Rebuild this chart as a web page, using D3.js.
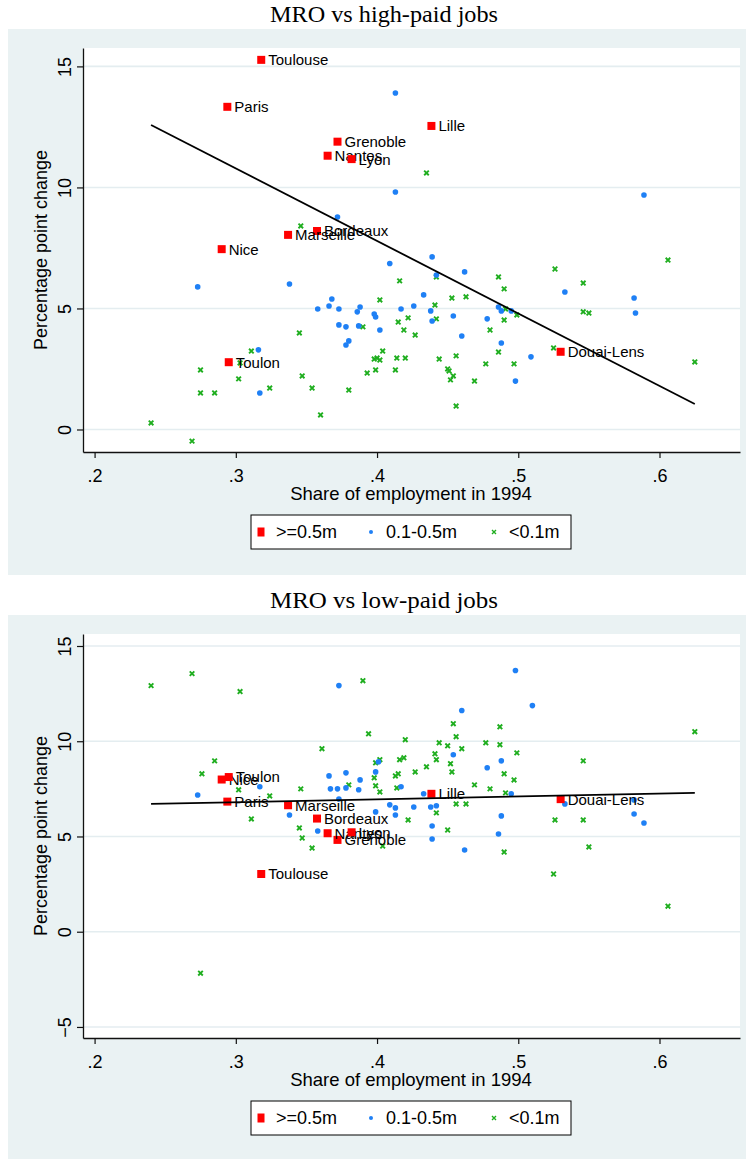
<!DOCTYPE html>
<html>
<head>
<meta charset="utf-8">
<script src="https://cdn.jsdelivr.net/npm/d3@7"></script>
<style>
  body { margin: 0; background: #fff; }
  text { font-family: "Liberation Sans", Arial, sans-serif; }
</style>
</head>
<body>
<div id="chart"></div>
<script>
// ---- data ----

// large employment zones (>=0.5m): name, share 1994, change high-paid, change low-paid
const cities = [
  ["Toulouse", 0.318, 15.27, 3.03],
  ["Paris", 0.294, 13.33, 6.83],
  ["Grenoble", 0.372, 11.89, 4.82],
  ["Nantes", 0.365, 11.31, 5.17],
  ["Lyon", 0.382, 11.17, 5.22],
  ["Lille", 0.4385, 12.54, 7.24],
  ["Bordeaux", 0.3575, 8.20, 5.94],
  ["Marseille", 0.337, 8.04, 6.64],
  ["Nice", 0.290, 7.45, 7.99],
  ["Toulon", 0.295, 2.78, 8.12],
  ["Douai-Lens", 0.530, 3.21, 6.96]
];

// 0.1-0.5m, high-paid jobs
const midHigh = [
  [0.413, 13.90], [0.413, 9.81], [0.589, 9.69], [0.372, 8.78], [0.439, 7.13],
  [0.409, 6.86], [0.462, 6.51], [0.442, 6.38], [0.338, 6.01], [0.273, 5.89],
  [0.533, 5.68], [0.433, 5.56], [0.368, 5.39], [0.582, 5.43], [0.366, 5.10],
  [0.426, 5.10], [0.486, 5.06], [0.358, 4.98], [0.373, 4.98], [0.417, 4.98],
  [0.388, 5.06], [0.386, 4.86], [0.398, 4.77], [0.399, 4.65], [0.438, 4.90],
  [0.488, 4.90], [0.495, 4.90], [0.583, 4.81], [0.454, 4.69], [0.478, 4.57],
  [0.439, 4.48], [0.373, 4.32], [0.378, 4.24], [0.387, 4.28], [0.402, 4.11],
  [0.460, 3.86], [0.488, 3.57], [0.378, 3.49], [0.380, 3.66], [0.316, 3.29],
  [0.509, 3.00], [0.498, 2.00], [0.317, 1.51]
];

// <0.1m, high-paid jobs
const smallHigh = [
  [0.435, 10.60], [0.346, 8.41], [0.606, 7.00], [0.526, 6.63], [0.442, 6.30],
  [0.486, 6.30], [0.416, 6.14], [0.546, 6.05], [0.490, 5.81], [0.453, 5.43],
  [0.463, 5.48], [0.402, 5.35], [0.441, 5.14], [0.491, 4.98], [0.546, 4.86],
  [0.550, 4.81], [0.499, 4.73], [0.422, 4.61], [0.442, 4.57], [0.490, 4.52],
  [0.415, 4.44], [0.390, 4.24], [0.419, 4.11], [0.480, 4.11], [0.345, 3.99],
  [0.427, 3.90], [0.525, 3.37], [0.311, 3.24], [0.404, 3.24], [0.486, 3.20],
  [0.456, 3.04], [0.398, 2.91], [0.400, 2.95], [0.402, 2.87], [0.414, 2.95],
  [0.420, 2.95], [0.444, 2.91], [0.625, 2.79], [0.303, 2.75], [0.477, 2.71],
  [0.497, 2.71], [0.275, 2.46], [0.399, 2.46], [0.413, 2.46], [0.450, 2.50],
  [0.451, 2.42], [0.393, 2.33], [0.347, 2.21], [0.454, 2.21], [0.302, 2.09],
  [0.452, 2.05], [0.469, 2.00], [0.324, 1.71], [0.354, 1.71], [0.380, 1.63],
  [0.275, 1.51], [0.285, 1.51], [0.456, 0.97], [0.360, 0.60], [0.240, 0.27],
  [0.269, -0.48]
];

// 0.1-0.5m, low-paid jobs
const midLow = [
  [0.373, 12.92], [0.498, 13.71], [0.510, 11.87], [0.460, 11.61], [0.454, 9.29],
  [0.401, 8.92], [0.488, 8.97], [0.478, 8.61], [0.366, 8.18], [0.378, 8.34],
  [0.399, 8.39], [0.388, 7.97], [0.317, 7.61], [0.367, 7.50], [0.372, 7.50],
  [0.378, 7.55], [0.387, 7.45], [0.417, 7.61], [0.433, 7.24], [0.495, 7.24],
  [0.273, 7.18], [0.373, 6.97], [0.409, 6.66], [0.413, 6.50], [0.426, 6.55],
  [0.438, 6.55], [0.442, 6.61], [0.533, 6.71], [0.399, 6.29], [0.338, 6.13],
  [0.413, 6.13], [0.582, 6.18], [0.488, 6.08], [0.589, 5.71], [0.439, 5.55],
  [0.358, 5.29], [0.486, 5.13], [0.439, 4.87], [0.462, 4.29], [0.582, 6.92]
];

// <0.1m, low-paid jobs
const smallLow = [
  [0.240, 12.92], [0.269, 13.55], [0.303, 12.61], [0.390, 13.18], [0.454, 10.92],
  [0.487, 10.76], [0.394, 10.39], [0.456, 10.24], [0.625, 10.50], [0.420, 10.08],
  [0.444, 9.92], [0.450, 9.76], [0.477, 9.92], [0.487, 9.82], [0.361, 9.61],
  [0.460, 9.61], [0.441, 9.34], [0.499, 9.39], [0.442, 9.03], [0.416, 9.03],
  [0.419, 9.13], [0.452, 8.82], [0.435, 8.66], [0.453, 8.39], [0.427, 8.39],
  [0.546, 8.97], [0.490, 8.29], [0.413, 8.18], [0.415, 8.29], [0.402, 9.03],
  [0.497, 7.97], [0.469, 7.71], [0.414, 7.55], [0.480, 7.50], [0.491, 7.29],
  [0.285, 8.97], [0.399, 8.87], [0.276, 8.29], [0.398, 8.08], [0.380, 7.71],
  [0.399, 7.66], [0.402, 7.34], [0.302, 7.45], [0.346, 7.50], [0.324, 7.13],
  [0.311, 5.92], [0.345, 5.45], [0.347, 4.92], [0.354, 4.39], [0.422, 5.87],
  [0.404, 4.50], [0.456, 6.71], [0.463, 6.71], [0.442, 6.24], [0.450, 5.34],
  [0.490, 4.18], [0.526, 5.87], [0.546, 5.87], [0.550, 4.45], [0.525, 3.03],
  [0.606, 1.34], [0.275, -2.18]
];

// linear fits: intercept, slope
const fitHigh = [19.77, -29.95];
const fitLow = [6.35, 1.5];

const xTicks = [0.2, 0.3, 0.4, 0.5, 0.6];
const yTicksHigh = [0, 5, 10, 15];
const yTicksLow = [-5, 0, 5, 10, 15];
const legendLabels = [">=0.5m", "0.1-0.5m", "<0.1m"];

const colors = { big: "#ff0000", mid: "#1f80f5", small: "#1fae1f" };

// ---- drawing ----

const svg = d3.select("#chart")
  .append("svg")
  .attr("width", 746)
  .attr("height", 1159);

const x = d3.scaleLinear().domain([0.1918, 0.657]).range([83, 740]);

function drawPanel(g, params) {
  const y = d3.scaleLinear().domain(params.yDomain).range([452, 48]);

  // background + title
  g.append("rect")
    .attr("x", 8).attr("y", 29)
    .attr("width", 738).attr("height", 546)
    .attr("fill", "#eaf2f3");

  g.append("text")
    .attr("x", 384).attr("y", 22)
    .attr("text-anchor", "middle")
    .attr("textLength", 228)
    .attr("lengthAdjust", "spacingAndGlyphs")
    .style("font-family", "'Liberation Serif', 'DejaVu Serif', serif")
    .style("font-size", "23px")
    .text(params.title);

  g.append("rect")
    .attr("x", 83).attr("y", 48)
    .attr("width", 657).attr("height", 404)
    .attr("fill", "#fff");

  // grid
  g.append("g")
    .selectAll("line")
    .data(params.yTicks)
    .join("line")
    .attr("x1", 83).attr("x2", 740)
    .attr("y1", (d) => y(d)).attr("y2", (d) => y(d))
    .attr("stroke", "#e4edf0")
    .attr("stroke-width", 1.6);

  // <0.1m crosses
  g.append("g")
    .selectAll("path")
    .data(params.small)
    .join("path")
    .attr("transform", (d) => "translate(" + [x(d[0]), y(d[1])] + ")")
    .attr("d", "M-2.3,-2.3L2.3,2.3M-2.3,2.3L2.3,-2.3")
    .attr("stroke", colors.small)
    .attr("stroke-width", 1.9)
    .attr("fill", "none");

  // 0.1-0.5m dots
  g.append("g")
    .selectAll("circle")
    .data(params.mid)
    .join("circle")
    .attr("cx", (d) => x(d[0]))
    .attr("cy", (d) => y(d[1]))
    .attr("r", 2.8)
    .attr("fill", colors.mid);

  // >=0.5m squares with labels
  const big = g.append("g")
    .selectAll("g")
    .data(cities)
    .join("g")
    .attr("transform", (d) => "translate(" + [x(d[1]), y(d[params.col])] + ")");

  big.append("rect")
    .attr("x", -4).attr("y", -4)
    .attr("width", 8).attr("height", 8)
    .attr("fill", colors.big);

  big.append("text")
    .attr("x", 7)
    .attr("dy", "0.36em")
    .style("font-size", "15px")
    .text((d) => d[0]);

  // fit line
  const all = params.small.concat(params.mid).map((d) => d[0]);
  const ext = d3.extent(all);
  g.append("path")
    .datum(ext)
    .attr("d", d3.line()
      .x((d) => x(d))
      .y((d) => y(params.fit[0] + params.fit[1] * d)))
    .attr("stroke", "#000")
    .attr("stroke-width", 1.8)
    .attr("fill", "none");

  // axes
  const yAxis = g.append("g")
    .attr("transform", "translate(83,0)")
    .call(d3.axisLeft(y).tickValues(params.yTicks).tickSize(6).tickSizeOuter(0));

  yAxis.selectAll("text")
    .attr("transform", "rotate(-90)")
    .attr("x", 0).attr("y", -12).attr("dy", 0)
    .attr("text-anchor", "middle")
    .style("font-size", "18px");

  const xAxis = g.append("g")
    .attr("transform", "translate(0,452)")
    .call(d3.axisBottom(x)
      .tickValues(xTicks)
      .tickSize(6)
      .tickSizeOuter(0)
      .tickFormat((d) => d3.format(".1f")(d).replace(/^0/, "")));

  xAxis.selectAll("text")
    .attr("y", 30).attr("dy", 0)
    .style("font-size", "18px");

  g.selectAll(".domain").attr("stroke", "#111").attr("stroke-width", 1.3);
  g.selectAll(".tick line").attr("stroke", "#111").attr("stroke-width", 1.2);
  g.selectAll(".tick text").attr("fill", "#000").style("font-family", "'Liberation Sans', Arial, sans-serif");

  // axis titles
  g.append("text")
    .attr("x", 411).attr("y", 500)
    .attr("text-anchor", "middle")
    .style("font-size", "18.5px")
    .text("Share of employment in 1994");

  g.append("text")
    .attr("transform", "translate(47,250) rotate(-90)")
    .attr("text-anchor", "middle")
    .style("font-size", "18px")
    .text("Percentage point change");

  // legend
  const lg = g.append("g").attr("transform", "translate(251,515)");
  lg.append("rect")
    .attr("width", 320).attr("height", 34)
    .attr("fill", "#fff")
    .attr("stroke", "#000")
    .attr("stroke-width", 1);

  const items = lg.selectAll("g")
    .data(legendLabels)
    .join("g")
    .attr("transform", (d, i) => "translate(" + [10 + [0, 110, 233][i], 17] + ")");

  items.filter((d, i) => i === 0).append("rect")
    .attr("x", -3.5).attr("y", -4.5).attr("width", 7).attr("height", 9)
    .attr("fill", colors.big);
  items.filter((d, i) => i === 1).append("circle")
    .attr("r", 2).attr("fill", colors.mid);
  items.filter((d, i) => i === 2).append("path")
    .attr("d", "M-2,-2L2,2M-2,2L2,-2")
    .attr("stroke", colors.small).attr("stroke-width", 1.4);

  items.append("text")
    .attr("x", 15)
    .attr("dy", "0.36em")
    .style("font-size", "18px")
    .text((d) => d);
}

drawPanel(svg.append("g"), {
  title: "MRO vs high-paid jobs",
  yDomain: [-0.93, 15.76],
  yTicks: yTicksHigh,
  col: 2,
  mid: midHigh,
  small: smallHigh,
  fit: fitHigh
});

drawPanel(svg.append("g").attr("transform", "translate(0,586)"), {
  title: "MRO vs low-paid jobs",
  yDomain: [-5.58, 15.63],
  yTicks: yTicksLow,
  col: 3,
  mid: midLow,
  small: smallLow,
  fit: fitLow
});
</script>
</body>
</html>
